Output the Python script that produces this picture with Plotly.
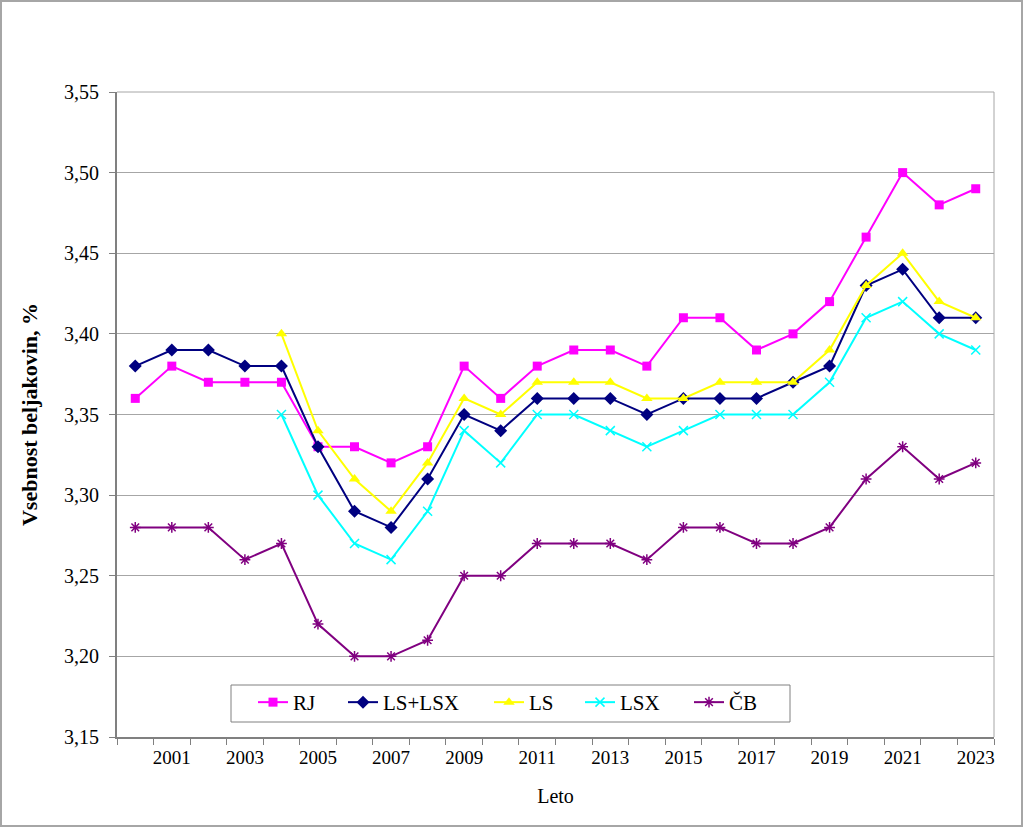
import plotly.graph_objects as go

years = list(range(2000, 2024))
rj = [3.36, 3.38, 3.37, 3.37, 3.37, 3.33, 3.33, 3.32, 3.33, 3.38, 3.36, 3.38,
      3.39, 3.39, 3.38, 3.41, 3.41, 3.39, 3.40, 3.42, 3.46, 3.50, 3.48, 3.49]
ls_lsx = [3.38, 3.39, 3.39, 3.38, 3.38, 3.33, 3.29, 3.28, 3.31, 3.35, 3.34, 3.36,
          3.36, 3.36, 3.35, 3.36, 3.36, 3.36, 3.37, 3.38, 3.43, 3.44, 3.41, 3.41]
ls = [None, None, None, None, 3.40, 3.34, 3.31, 3.29, 3.32, 3.36, 3.35, 3.37,
      3.37, 3.37, 3.36, 3.36, 3.37, 3.37, 3.37, 3.39, 3.43, 3.45, 3.42, 3.41]
lsx = [None, None, None, None, 3.35, 3.30, 3.27, 3.26, 3.29, 3.34, 3.32, 3.35,
       3.35, 3.34, 3.33, 3.34, 3.35, 3.35, 3.35, 3.37, 3.41, 3.42, 3.40, 3.39]
cb = [3.28, 3.28, 3.28, 3.26, 3.27, 3.22, 3.20, 3.20, 3.21, 3.25, 3.25, 3.27,
      3.27, 3.27, 3.26, 3.28, 3.28, 3.27, 3.27, 3.28, 3.31, 3.33, 3.31, 3.32]
y_ticks = [3.15, 3.20, 3.25, 3.30, 3.35, 3.40, 3.45, 3.50, 3.55]
x_labels = list(range(2001, 2024, 2))

FONT = "Liberation Serif"
LEG_FONT = "Times New Roman"

series = [
    ("RJ", rj, "#FF00FF", "square", 9, 0),
    ("LS+LSX", ls_lsx, "#000080", "diamond", 10, 0),
    ("LS", ls, "#FFFF00", "triangle-up", 10, 0),
    ("LSX", lsx, "#00FFFF", "x-thin", 9, 1.5),
    ("ČB", cb, "#800080", "asterisk", 9, 1.5),
]

W, H = 1024, 828
L, R, T, B = 117, 30, 92, 91
pw, ph = W - L - R, H - T - B

# legend entry start positions (px) and legend box
leg_starts = [261, 351, 497, 588, 697]
box = (231, 685, 790, 722)

fig = go.Figure()
legend_layout = {}
for i, (name, vals, col, sym, sz, lw) in enumerate(series):
    mk = dict(symbol=sym, size=sz, color=col)
    if lw:
        mk["line"] = dict(color=col, width=lw)
    lname = "legend" if i == 0 else f"legend{i + 1}"
    fig.add_trace(go.Scatter(x=years, y=vals, name=name, mode="lines+markers",
                             line=dict(color=col, width=2), marker=mk,
                             legend=lname))
    legend_layout[lname] = dict(
        orientation="h", x=(leg_starts[i] - 8 - L) / pw,
        y=(737 - (box[1] - 3)) / ph, xanchor="left", yanchor="top",
        bgcolor="rgba(0,0,0,0)", borderwidth=0,
        font=dict(family=LEG_FONT, size=21, color="black"), itemwidth=30)

fig.update_layout(
    width=W, height=H,
    margin=dict(l=L, r=R, t=T, b=B, pad=0),
    paper_bgcolor="white", plot_bgcolor="white",
    separators=", ",
    font=dict(family=FONT, size=19, color="black"),
    showlegend=True,
    **legend_layout,
    xaxis=dict(range=[1999.5, 2023.5], tickvals=x_labels, ticks="",
               showgrid=False, zeroline=False,
               showline=True, linecolor="#808080", linewidth=2,
               ticklabelstandoff=2,
               minor=dict(tickvals=[y + 0.5 for y in range(1999, 2024)],
                          ticks="outside", ticklen=6, tickcolor="#808080",
                          tickwidth=1, showgrid=False),
               title=dict(text="Leto", font=dict(family=FONT, size=20), standoff=22),
               tickfont=dict(family=FONT, size=19)),
    yaxis=dict(range=[3.15, 3.55], tickvals=y_ticks, tickformat=".2f",
               ticks="outside", ticklen=6, tickcolor="#808080",
               ticklabelstandoff=6,
               showgrid=True, gridcolor="#A6A6A6", gridwidth=1,
               zeroline=False, showline=True, linecolor="#808080", linewidth=2,
               title=dict(text="<b>Vsebnost beljakovin, %</b>",
                          font=dict(family=FONT, size=22), standoff=20),
               tickfont=dict(family=FONT, size=20)),
    shapes=[
        dict(type="line", xref="paper", yref="paper", x0=0, x1=1, y0=1, y1=1,
             line=dict(color="#A6A6A6", width=1)),
        dict(type="line", xref="paper", yref="paper", x0=1, x1=1, y0=0, y1=1,
             line=dict(color="#A6A6A6", width=1)),
        dict(type="rect", xref="paper", yref="paper",
             x0=(1 - L) / pw, x1=(W - 2 - L) / pw,
             y0=-(H - 2 - T - ph) / ph, y1=1 + (T - 1) / ph,
             line=dict(color="#A6A6A6", width=2), layer="below"),
        dict(type="rect", xref="paper", yref="paper",
             x0=(box[0] - L) / pw, x1=(box[2] - L) / pw,
             y0=(737 - box[3]) / ph, y1=(737 - box[1]) / ph,
             fillcolor="white", line=dict(color="#808080", width=1),
             layer="above"),
    ],
)

fig.write_html("out.html", post_script="document.body.style.margin='0';",
               config={"displayModeBar": False})
